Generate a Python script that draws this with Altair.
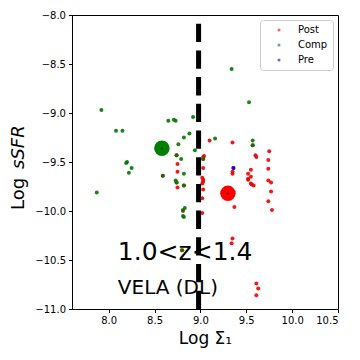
import altair as alt
import pandas as pd

# Post (red) points
post_x = [9.10, 9.35, 9.03, 9.04, 9.03, 9.60, 9.61, 9.75, 9.74, 9.74, 9.03, 9.36, 9.35, 9.35,
          9.55, 9.52, 9.55, 9.52, 9.52, 9.55, 9.56, 9.58, 9.74, 9.77, 9.77, 9.74, 9.78,
          9.02, 9.03, 9.03, 9.02, 9.03, 9.02, 9.02, 9.37, 8.75, 8.75, 8.75, 8.81,
          9.35, 9.34, 9.61, 9.63, 9.61, 9.57, 8.74, 8.59, 8.74, 8.82, 8.80]
post_y = [-9.28, -9.30, -9.45, -9.44, -9.47, -9.43, -9.45, -9.39, -9.48, -9.57, -9.56, -9.56, -9.60, -9.62,
          -9.58, -9.62, -9.65, -9.67, -9.68, -9.72, -9.73, -9.74, -9.69, -9.71, -9.80, -9.90, -9.99,
          -9.66, -9.68, -9.70, -9.72, -9.78, -9.87, -10.02, -9.96, -9.52, -9.60, -9.76, -10.00,
          -10.28, -10.33, -10.74, -10.79, -10.86, -9.33, -9.43, -9.64, -9.71, -9.74, -10.40]

# Comp (green) points
comp_x = [7.92, 8.08, 8.15, 8.65, 8.71, 8.73, 8.92, 8.82, 8.88, 8.76, 8.94, 8.74, 8.79,
          8.20, 8.19, 8.25, 8.22, 7.87, 8.59, 8.82, 8.74, 8.73, 8.82, 8.83, 8.81, 8.82, 8.81,
          9.16, 9.57, 9.57, 9.34, 9.53, 9.03, 8.80]
comp_y = [-8.97, -9.18, -9.18, -9.08, -9.07, -9.08, -9.04, -9.25, -9.21, -9.32, -9.38, -9.43, -9.47,
          -9.50, -9.51, -9.56, -9.61, -9.81, -9.64, -9.62, -9.71, -9.69, -9.74, -9.97, -9.99, -10.06, -10.05,
          -9.26, -9.28, -9.33, -8.55, -8.89, -9.47, -10.40]

# Pre (blue) points
pre_x = [9.36]
pre_y = [-9.56]

# Group means (large markers)
mean_group = ["Comp", "Post"]
mean_x = [8.58, 9.30]
mean_y = [-9.36, -9.82]

# Threshold line
thresh_x = [8.98]

# Annotations
note_text = ["1.0<z<1.4", "VELA (DL)"]
note_x = [8.1, 8.1]
note_y = [-10.5, -10.85]
note_size = [25, 20]

x_ticks = [8.0, 8.5, 9.0, 9.5, 10.0, 10.5]
y_ticks = [-11.0, -10.5, -10.0, -9.5, -9.0, -8.5, -8.0]

cats = ["Post", "Comp", "Pre"]
cols = ["#ee0000", "#007800", "#0000ee"]

rows = []
for xs, ys, g in [(post_x, post_y, "Post"), (comp_x, comp_y, "Comp"), (pre_x, pre_y, "Pre")]:
    for a, b in zip(xs, ys):
        rows.append({"x": a, "y": b, "group": g})
pts = pd.DataFrame(rows)
pts["order"] = pts["group"].map({"Post": 0, "Comp": 1, "Pre": 2})

xsc = alt.Scale(domain=[7.6, 10.5], nice=False, zero=False)
ysc = alt.Scale(domain=[-11, -8], nice=False, zero=False)

xax = alt.Axis(values=x_ticks, format=".1f", title="Log Σ₁", grid=False,
               titleFontSize=17, titleFontWeight="normal", titlePadding=5)
yax = alt.Axis(values=y_ticks, format=".1f", title=None, grid=False)

points = alt.Chart(pts).mark_circle(size=16, opacity=0.9).encode(
    x=alt.X("x:Q", scale=xsc, axis=xax),
    y=alt.Y("y:Q", scale=ysc, axis=yax),
    color=alt.Color("group:N", scale=alt.Scale(domain=cats, range=cols),
                    legend=alt.Legend(title=None, orient="top-right", offset=5,
                                      padding=5, symbolSize=10, symbolOpacity=0.6,
                                      symbolType="circle", symbolOffset=9,
                                      labelOffset=14, labelFontSize=10, rowPadding=5,
                                      fillColor="white", strokeColor="#cccccc",
                                      cornerRadius=3, labelFont="DejaVu Sans")),
    order=alt.Order("order:Q"),
)

means_df = pd.DataFrame({"x": mean_x, "y": mean_y, "group": mean_group})
means = alt.Chart(means_df).mark_circle(size=240, opacity=1).encode(
    x=alt.X("x:Q", scale=xsc),
    y=alt.Y("y:Q", scale=ysc),
    fill=alt.Fill("group:N", scale=alt.Scale(domain=["Comp", "Post"], range=["#008000", "#ff0000"]), legend=None),
)
centers = alt.Chart(means_df).mark_point(size=5, filled=True, color="black", shape="triangle-up", opacity=1).encode(
    x=alt.X("x:Q", scale=xsc),
    y=alt.Y("y:Q", scale=ysc),
)

notes_df = pd.DataFrame({"x": note_x, "y": note_y, "t": note_text, "s": note_size})
notes = alt.Chart(notes_df).mark_text(align="left", baseline="alphabetic", font="DejaVu Sans", color="black").encode(
    x=alt.X("x:Q", scale=xsc),
    y=alt.Y("y:Q", scale=ysc),
    text="t:N",
    size=alt.Size("s:Q", scale=None, legend=None),
)

line = alt.Chart(pd.DataFrame({"x": thresh_x})).mark_rule(
    color="black", strokeWidth=5, strokeDash=[18.3, 8.4], strokeCap="butt"
).encode(
    x=alt.X("x:Q", scale=xsc),
    y=alt.value(294),
    y2=alt.value(0),
)

ytitle1 = alt.Chart(pd.DataFrame({"t": ["Log"]})).mark_text(
    angle=270, align="left", baseline="alphabetic", fontSize=18, font="DejaVu Sans", color="black"
).encode(x=alt.value(-48), y=alt.value(195), text="t:N")
ytitle2 = alt.Chart(pd.DataFrame({"t": ["sSFR"]})).mark_text(
    angle=270, align="left", baseline="alphabetic", fontSize=18, font="DejaVu Sans",
    fontStyle="italic", color="black"
).encode(x=alt.value(-48), y=alt.value(154), text="t:N")

chart = alt.layer(points, means, centers, notes, line, ytitle1, ytitle2).properties(
    width=266, height=294,
    autosize=alt.AutoSizeParams(type="none"),
    padding={"left": 64, "top": 7, "right": 14, "bottom": 43},
).configure_view(
    stroke="black", strokeWidth=1
).configure_axis(
    domainColor="black", tickColor="black", tickSize=3.5, labelFontSize=10,
    labelColor="black", labelFont="DejaVu Sans", titleFont="DejaVu Sans",
    titleColor="black", labelPadding=3, domainWidth=1, tickWidth=1
)

chart.save("out.html", embed_options={"renderer": "svg", "actions": False})
